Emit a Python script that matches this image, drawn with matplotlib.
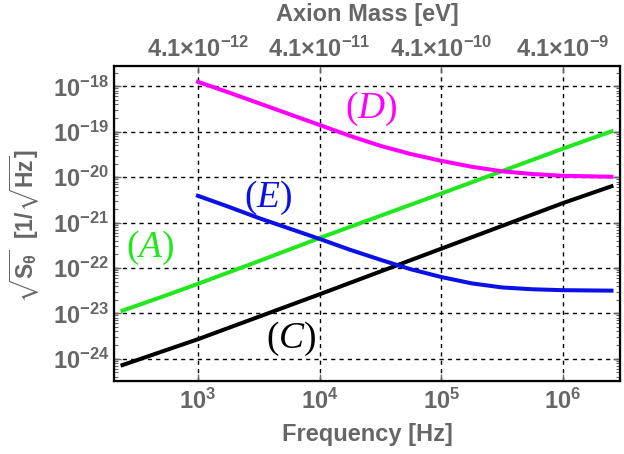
import numpy as np
import matplotlib
matplotlib.use("Agg")
import matplotlib.pyplot as plt
from matplotlib.ticker import LogLocator, NullLocator, NullFormatter

# ===============================
# Data (log10 values)
# ===============================
f_A = [240, 490, 1e3, 10**3.5, 1e4, 1e5, 1e6, 2.5e6]
logS_A = [-22.94, -22.65, -22.35, -21.85, -21.34, -20.36, -19.37, -18.99]

f_C = [240, 490, 1e3, 1e4, 1e5, 1e6, 2.5e6]
logS_C = [-24.14, -23.855, -23.57, -22.58, -21.575, -20.57, -20.2]

f_D = [1e3, 10**3.25, 10**3.5, 10**3.75, 1e4, 10**4.25, 10**4.5, 10**4.75,
       1e5, 10**5.25, 10**5.5, 10**5.75, 1e6, 2.5e6]
logS_D = [-17.90, -18.13, -18.37, -18.61, -18.85, -19.09, -19.31, -19.49,
          -19.64, -19.77, -19.87, -19.93, -19.97, -19.99]

f_E = [1e3, 10**3.25, 10**3.5, 10**3.75, 1e4, 10**4.25, 10**4.5, 10**4.75,
       1e5, 10**5.25, 10**5.5, 10**5.75, 1e6, 2.5e6]
logS_E = [-20.41, -20.65, -20.90, -21.13, -21.36, -21.60, -21.82, -22.03,
          -22.20, -22.34, -22.43, -22.47, -22.49, -22.50]

freq_ticks = [1e3, 1e4, 1e5, 1e6]
freq_labels = [r"$\mathbf{10^{3}}$", r"$\mathbf{10^{4}}$",
               r"$\mathbf{10^{5}}$", r"$\mathbf{10^{6}}$"]
mass_labels = [r"$\mathbf{4.1{\times}10^{-12}}$", r"$\mathbf{4.1{\times}10^{-11}}$",
               r"$\mathbf{4.1{\times}10^{-10}}$", r"$\mathbf{4.1{\times}10^{-9}}$"]
y_exps = [-24, -23, -22, -21, -20, -19, -18]

# ===============================
# Style
# ===============================
plt.rcParams["font.family"] = ["Liberation Sans", "DejaVu Sans"]
plt.rcParams["mathtext.fontset"] = "custom"
plt.rcParams["mathtext.rm"] = "Liberation Sans:weight=bold"
plt.rcParams["mathtext.bf"] = "Liberation Sans:weight=bold"
plt.rcParams["mathtext.it"] = "Liberation Serif:style=italic:weight=normal"
plt.rcParams["mathtext.sf"] = "Liberation Serif:weight=normal"
plt.rcParams["mathtext.fallback"] = "stix"

gray = "#666666"

fig = plt.figure(figsize=(6.24, 4.54), dpi=100)
W, H = 624, 454
ax = fig.add_axes([113.5 / W, 1 - 380.5 / H, (620 - 113.5) / W, (380.5 - 66) / H])

ax.plot(f_A, 10.0 ** np.array(logS_A), color="#22e61e", lw=2.9, zorder=3)
ax.plot(f_C, 10.0 ** np.array(logS_C), color="black", lw=2.9, zorder=3)
ax.plot(f_D, 10.0 ** np.array(logS_D), color="#ff00ff", lw=2.9, zorder=3)
ax.plot(f_E, 10.0 ** np.array(logS_E), color="#0a10e6", lw=2.9, zorder=3)

ax.set_xscale("log")
ax.set_yscale("log")
ax.set_xlim(10**2.306, 10**6.468)
ax.set_ylim(10**-24.48, 10**-17.55)

# curve labels
lab_kw = dict(fontsize=27, ha="center", va="center", fontweight="normal")
ax.text(10**4.42, 10**-18.5, r"$\mathsf{(}\mathit{D}\mathsf{)}$", color="#ff00ff", **lab_kw)
ax.text(10**3.58, 10**-20.45, r"$\mathsf{(}\mathit{E}\mathsf{)}$", color="#0a10e6", **lab_kw)
ax.text(10**2.61, 10**-21.55, r"$\mathsf{(}\mathit{A}\mathsf{)}$", color="#22e61e", **lab_kw)
ax.text(10**3.77, 10**-23.555, r"$\mathsf{(}\mathit{C}\mathsf{)}$", color="black", **lab_kw)

# ticks
ax.set_xticks(freq_ticks)
ax.set_xticklabels(freq_labels)
ax.xaxis.set_minor_locator(NullLocator())
ax.set_yticks([10.0**e for e in y_exps])
ax.set_yticklabels([r"$\mathbf{10^{%d}}$" % e for e in y_exps])
ax.yaxis.set_minor_locator(LogLocator(base=10, subs=np.arange(2, 10), numticks=20))
ax.yaxis.set_minor_formatter(NullFormatter())

ax.tick_params(axis="both", which="both", direction="in", color=gray,
               labelcolor=gray, labelsize=17)
ax.tick_params(axis="x", which="major", length=5, width=1, top=False, pad=6)
ax.tick_params(axis="y", which="major", length=5, width=1, right=True, pad=3)
ax.tick_params(axis="y", which="minor", length=3, width=0.8, right=True)

ax.grid(True, which="major", color="black", linestyle=(0, (3, 3)), lw=1.0)

for s in ax.spines.values():
    s.set_linewidth(1.6)
    s.set_color("black")

# top axis: axion mass
ax2 = ax.twiny()
ax2.set_xscale("log")
ax2.set_xlim(ax.get_xlim())
ax2.set_xticks(freq_ticks)
ax2.set_xticklabels(mass_labels)
ax2.xaxis.set_minor_locator(NullLocator())
ax2.tick_params(axis="x", which="major", direction="in", color=gray,
                labelcolor=gray, labelsize=17, length=5, width=1, pad=3)

# axis labels
fig.text(367 / W, 1 - 434 / H, "Frequency [Hz]", color=gray, fontsize=17,
         fontweight="bold", ha="center", va="center")
fig.text(367 / W, 1 - 15 / H, "Axion Mass [eV]", color=gray, fontsize=17,
         fontweight="bold", ha="center", va="center")
fig.text(25 / W, 1 - 226 / H,
         r"$\sqrt{\mathbf{S}_{\mathbf{\theta}}}$  [1/$\sqrt{\mathbf{Hz}}$]",
         color=gray, fontsize=16.5, fontweight="bold", rotation=90,
         ha="center", va="center")

fig.savefig("out.png", dpi=100)
